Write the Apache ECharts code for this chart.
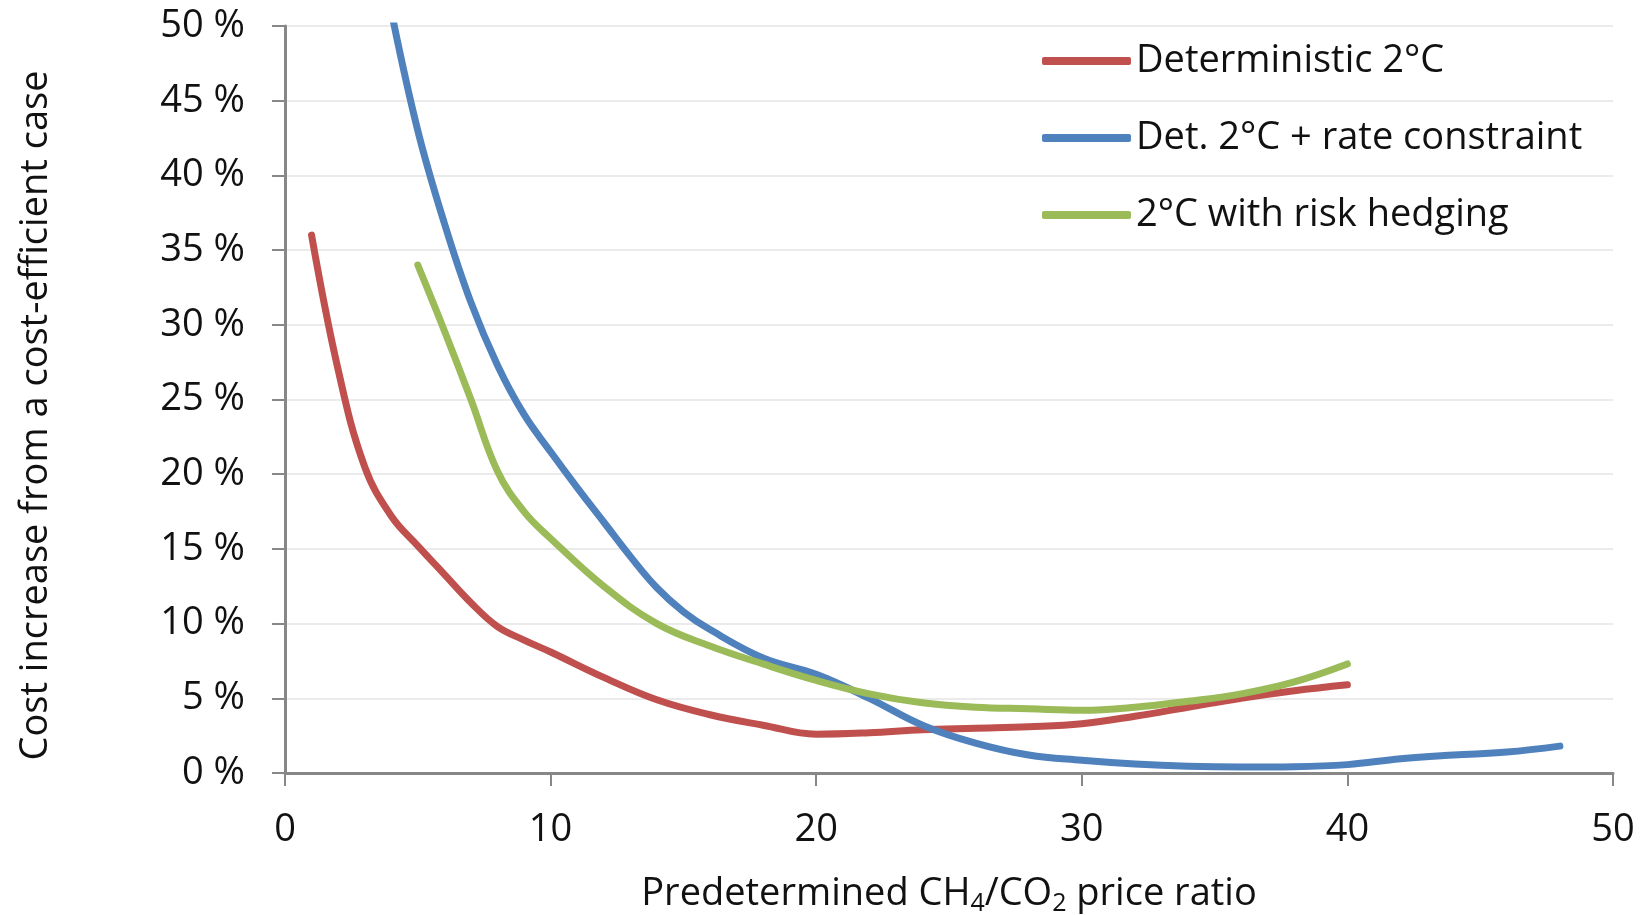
<!DOCTYPE html>
<html>
<head>
<meta charset="utf-8">
<script src="https://cdn.jsdelivr.net/npm/echarts@6/dist/echarts.min.js"></script>
<style>
  html, body { margin: 0; padding: 0; background: #fff; }
  #main { width: 1641px; height: 915px; }
</style>
</head>
<body>
<div id="main"></div>
<script>
// 数据: x = CH4/CO2 价格比, y = 成本增加 (%)
var redX = [1, 2, 3, 4, 5, 6, 7, 8, 9, 10, 12, 14, 16, 18, 20, 22, 24, 26, 28, 30, 32, 34, 36, 38, 40];
var redY = [36, 27, 20.5, 17.2, 15.2, 13.3, 11.4, 9.8, 8.9, 8.1, 6.4, 4.9, 3.9, 3.2, 2.6, 2.7, 2.9, 3.0, 3.1, 3.3, 3.8, 4.4, 5.0, 5.5, 5.9];

var blueX = [4, 5, 6, 7, 8, 9, 10, 11, 12, 13, 14, 15, 16, 18, 20, 22, 24, 26, 28, 30, 32, 34, 36, 38, 40, 42, 44, 46, 48];
var blueY = [51, 43, 36.8, 31.5, 27.3, 24, 21.5, 19.1, 16.8, 14.5, 12.4, 10.8, 9.6, 7.7, 6.6, 5.0, 3.2, 2.0, 1.2, 0.85, 0.6, 0.45, 0.4, 0.42, 0.56, 0.95, 1.2, 1.4, 1.8];

var greenX = [5, 6, 7, 8, 9, 10, 12, 14, 16, 18, 20, 22, 24, 26, 28, 30, 32, 34, 36, 38, 40];
var greenY = [34, 29.6, 25, 20.2, 17.5, 15.7, 12.5, 10, 8.5, 7.3, 6.2, 5.3, 4.7, 4.4, 4.3, 4.2, 4.4, 4.8, 5.3, 6.1, 7.3];

var seriesNames = ['Deterministic 2°C', 'Det. 2°C + rate constraint', '2°C with risk hedging'];
var seriesColors = ['#C0504D', '#4F81BD', '#9BBB59'];

var FONT = 'Open Sans';

function pairs(xs, ys) {
    var res = [];
    for (var i = 0; i < xs.length; i++) {
        res.push([xs[i], ys[i]]);
    }
    return res;
}

var chart = echarts.init(document.getElementById('main'));

function lineSeries(idx, data) {
    return {
        name: seriesNames[idx],
        type: 'line',
        smooth: 0.4,
        showSymbol: false,
        symbol: 'none',
        clip: true,
        data: data,
        lineStyle: {
            color: seriesColors[idx],
            width: 7,
            cap: 'round',
            join: 'round'
        },
        itemStyle: {color: seriesColors[idx]}
    };
}

var option = {
    backgroundColor: '#fff',
    animation: false,
    textStyle: {fontFamily: FONT},
    grid: {
        left: 285,
        right: 28,
        top: 26,
        bottom: 142,
        containLabel: false,
        outerBoundsMode: 'none'
    },
    legend: {
        orient: 'vertical',
        left: 1037,
        top: 35,
        itemWidth: 89,
        itemHeight: 8,
        itemGap: 35,
        icon: 'roundRect',
        textStyle: {
            fontFamily: FONT,
            fontSize: 38,
            lineHeight: 42,
            color: '#111'
        },
        data: seriesNames
    },
    xAxis: {
        type: 'value',
        min: 0,
        max: 50,
        interval: 10,
        name: '{a|Predetermined CH}{s|4}{a|/CO}{s|2}{a| price ratio}',
        nameLocation: 'middle',
        nameGap: 99,
        nameTextStyle: {
            rich: {
                a: {fontFamily: FONT, fontSize: 38, lineHeight: 44, color: '#111', verticalAlign: 'middle'},
                s: {fontFamily: FONT, fontSize: 25, lineHeight: 4, color: '#111', verticalAlign: 'bottom'}
            }
        },
        axisLine: {lineStyle: {color: '#878787', width: 3}},
        axisTick: {show: true, inside: false, length: 13, lineStyle: {color: '#878787', width: 2}},
        axisLabel: {fontFamily: FONT, fontSize: 38, color: '#111', margin: 38},
        splitLine: {show: false}
    },
    yAxis: {
        type: 'value',
        min: 0,
        max: 50,
        interval: 5,
        name: 'Cost increase from a cost-efficient case',
        nameLocation: 'middle',
        nameRotate: 90,
        nameGap: 230,
        nameTextStyle: {fontFamily: FONT, fontSize: 38, color: '#111', padding: [0, 32, 0, 0]},
        axisLine: {show: true, lineStyle: {color: '#878787', width: 3}},
        axisTick: {show: true, inside: false, length: 13, lineStyle: {color: '#878787', width: 2}},
        axisLabel: {
            fontFamily: FONT,
            fontSize: 38,
            color: '#111',
            margin: 40,
            formatter: '{value} %'
        },
        splitLine: {show: true, lineStyle: {color: '#ebebeb', width: 2}}
    },
    series: [
        lineSeries(0, pairs(redX, redY)),
        lineSeries(1, pairs(blueX, blueY)),
        lineSeries(2, pairs(greenX, greenY))
    ]
};

chart.setOption(option);
</script>
</body>
</html>
